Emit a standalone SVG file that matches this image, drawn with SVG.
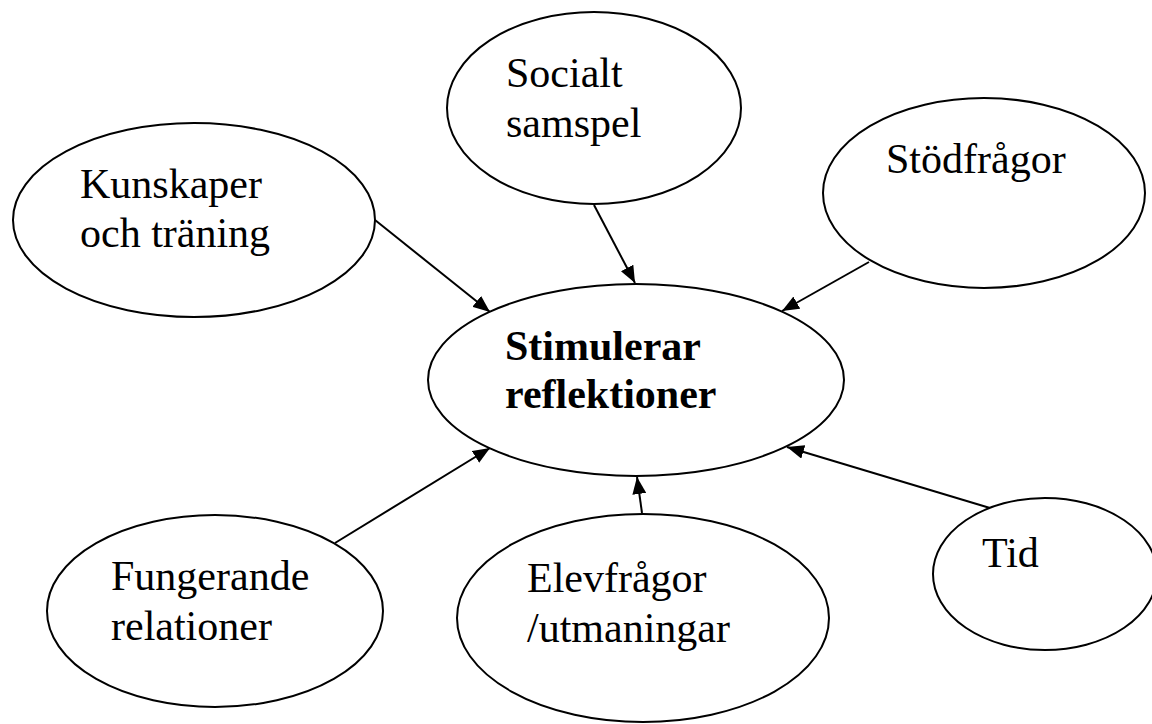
<svg xmlns="http://www.w3.org/2000/svg" width="1152" height="724" viewBox="0 0 1152 724">
<style>
.node ellipse{fill:#fff;stroke:#000;stroke-width:2}
.lbl{font-family:"Liberation Serif","Times New Roman",serif;font-size:42px;fill:#000}
.bold{font-weight:bold}
.edge{stroke:#000;stroke-width:2;fill:none;marker-end:url(#arr)}
</style>
<defs>
<marker id="arr" markerUnits="userSpaceOnUse" markerWidth="18" markerHeight="14" refX="17" refY="7" orient="auto">
<path d="M0,0 L17,7 L0,14 z" fill="#000"/>
</marker>
</defs>
<rect width="1152" height="724" fill="#fff"/>
<g id="connectors">
<line class="edge" x1="375" y1="220" x2="490" y2="312"/>
<line class="edge" x1="594" y1="205" x2="635" y2="283"/>
<line class="edge" x1="869" y1="262" x2="782" y2="311"/>
<line class="edge" x1="335" y1="543" x2="490" y2="448"/>
<line class="edge" x1="642" y1="513" x2="637" y2="477"/>
<line class="edge" x1="990" y1="508" x2="787" y2="447"/>
</g>
<g id="socialt" class="node">
<ellipse cx="594" cy="108" rx="147" ry="96"/>
<text class="lbl" x="506" y="87">Socialt</text>
<text class="lbl" x="506" y="137">samspel</text>
</g>
<g id="kunskaper" class="node">
<ellipse cx="194" cy="220" rx="181" ry="97"/>
<text class="lbl" x="80" y="198">Kunskaper</text>
<text class="lbl" x="80" y="247">och träning</text>
</g>
<g id="stodfragor" class="node">
<ellipse cx="984" cy="193" rx="161" ry="95"/>
<text class="lbl" x="886" y="173">Stödfrågor</text>
</g>
<g id="stimulerar" class="node">
<ellipse cx="636" cy="380" rx="208" ry="96"/>
<text class="lbl bold" x="505" y="360">Stimulerar</text>
<text class="lbl bold" x="505" y="408">reflektioner</text>
</g>
<g id="fungerande" class="node">
<ellipse cx="215" cy="611" rx="168" ry="96"/>
<text class="lbl" x="111" y="590">Fungerande</text>
<text class="lbl" x="111" y="640">relationer</text>
</g>
<g id="elevfragor" class="node">
<ellipse cx="643" cy="618" rx="186" ry="104"/>
<text class="lbl" x="527" y="592">Elevfrågor</text>
<text class="lbl" x="527" y="642">/utmaningar</text>
</g>
<g id="tid" class="node">
<ellipse cx="1045" cy="574" rx="112" ry="76"/>
<text class="lbl" x="982" y="567">Tid</text>
</g>
</svg>
